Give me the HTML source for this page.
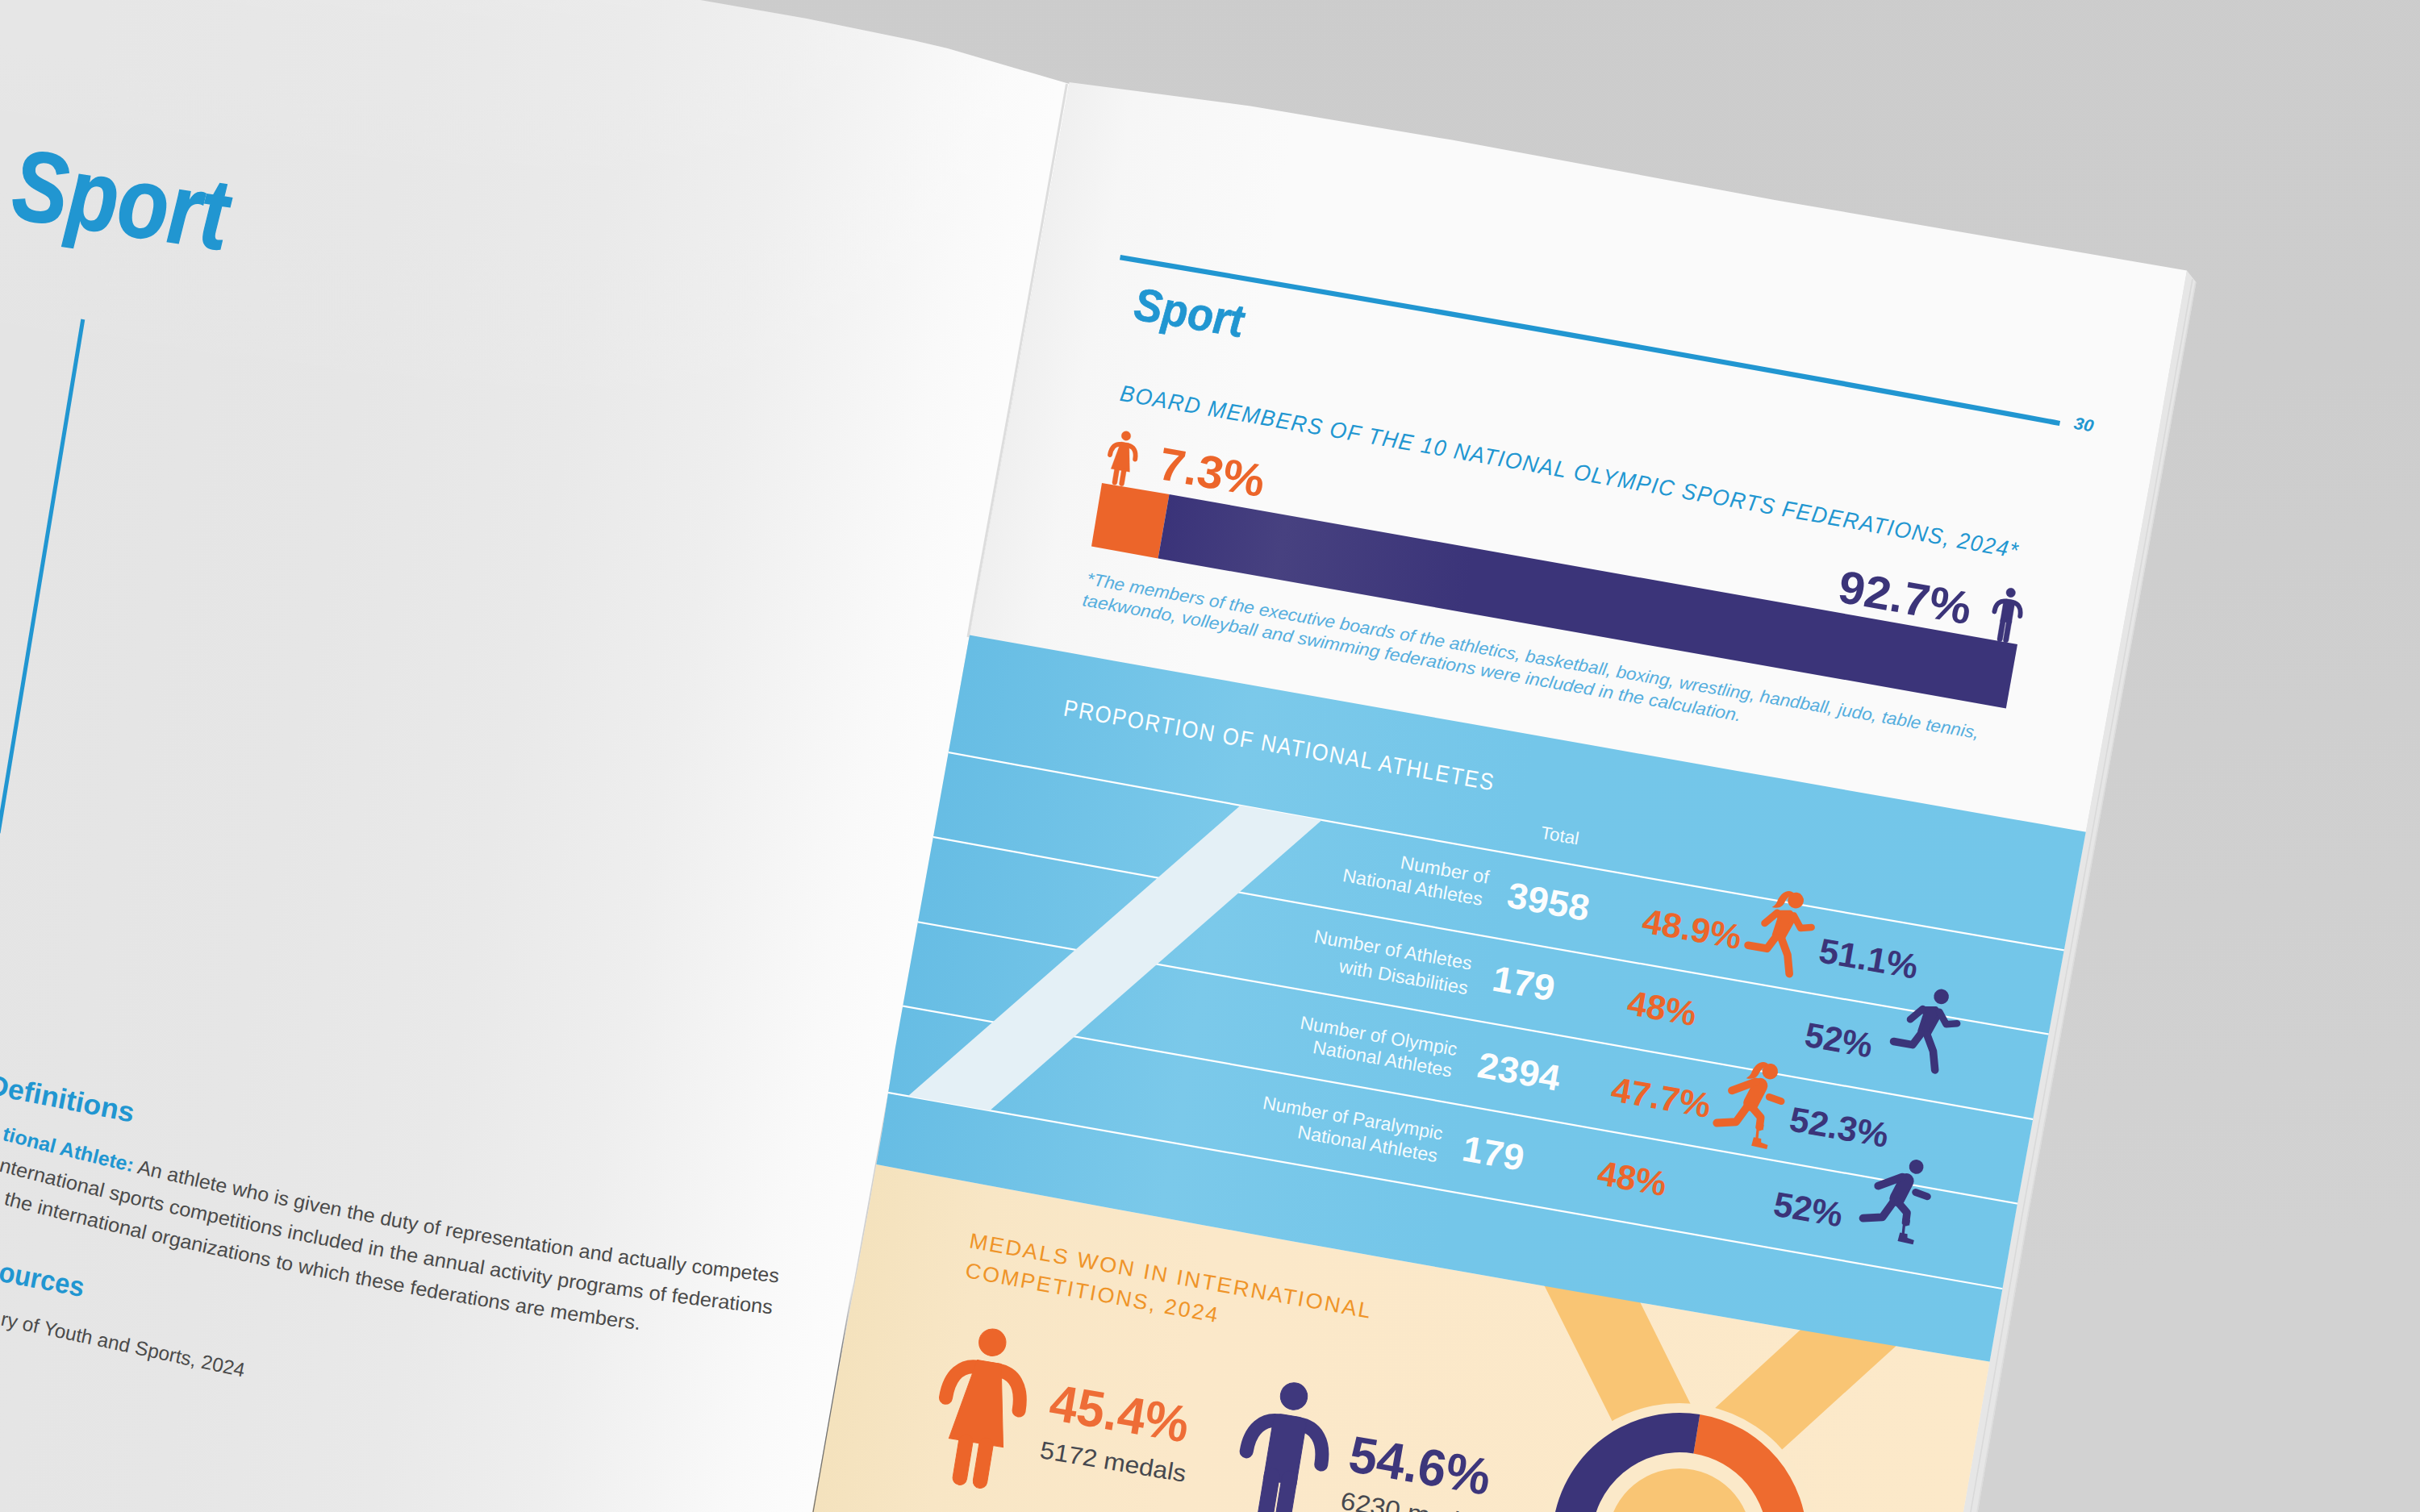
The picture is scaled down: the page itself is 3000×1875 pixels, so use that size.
<!DOCTYPE html>
<html><head><meta charset="utf-8"><title>Sport</title>
<style>html,body{margin:0;padding:0;background:#cdcdcd;}svg{display:block;font-family:"Liberation Sans",sans-serif;}</style>
</head><body>
<svg width="3000" height="1875" viewBox="0 0 3000 1875">
<defs>
<linearGradient id="bg" x1="0" y1="0" x2="0.25" y2="1">
<stop offset="0" stop-color="#cccccc"/><stop offset="0.45" stop-color="#cdcdcd"/><stop offset="1" stop-color="#d2d2d2"/></linearGradient>
<linearGradient id="lp" gradientUnits="userSpaceOnUse" x1="0" y1="700" x2="1300" y2="930">
<stop offset="0" stop-color="#e4e4e4"/><stop offset="0.3" stop-color="#e6e6e6"/><stop offset="0.5" stop-color="#e9e9e9"/><stop offset="0.65" stop-color="#eeeeee"/><stop offset="0.75" stop-color="#f4f4f4"/><stop offset="0.83" stop-color="#f9f9f9"/><stop offset="0.9" stop-color="#fcfcfc"/><stop offset="1" stop-color="#fcfcfc"/></linearGradient>
<linearGradient id="lptop" gradientUnits="userSpaceOnUse" x1="900" y1="0" x2="780" y2="700">
<stop offset="0" stop-color="#ffffff" stop-opacity="0.12"/><stop offset="0.5" stop-color="#ffffff" stop-opacity="0.04"/><stop offset="1" stop-color="#ffffff" stop-opacity="0"/></linearGradient>
<linearGradient id="rp" gradientUnits="userSpaceOnUse" x1="1180" y1="900" x2="2600" y2="1150">
<stop offset="0" stop-color="#efefef"/><stop offset="0.06" stop-color="#f6f6f6"/><stop offset="0.2" stop-color="#fafafa"/><stop offset="1" stop-color="#fafafa"/></linearGradient>
<linearGradient id="bl" gradientUnits="userSpaceOnUse" x1="1150" y1="1100" x2="2550" y2="1350">
<stop offset="0" stop-color="#67bde4"/><stop offset="0.25" stop-color="#7bc9ea"/><stop offset="0.5" stop-color="#74c6e9"/><stop offset="1" stop-color="#73c6e9"/></linearGradient>
<linearGradient id="cr" gradientUnits="userSpaceOnUse" x1="1050" y1="1650" x2="2450" y2="1900">
<stop offset="0" stop-color="#f4e2bd"/><stop offset="0.1" stop-color="#f8e6c5"/><stop offset="0.3" stop-color="#fbe8c9"/><stop offset="1" stop-color="#fce9c9"/></linearGradient>
<linearGradient id="pb" gradientUnits="userSpaceOnUse" x1="1440" y1="650" x2="2500" y2="840">
<stop offset="0" stop-color="#3a3379"/><stop offset="0.14" stop-color="#474180"/><stop offset="0.36" stop-color="#3b3479"/><stop offset="1" stop-color="#3b3479"/></linearGradient>
<clipPath id="rpclip"><polygon points="1325.5,102.0 1550.0,131.4 1800.0,173.6 2200.0,248.0 2711.0,335.6 2664.7,600.0 2585.5,1033.0 2499.6,1500.0 2433.9,1875.0 1006.9,1875.0 1076.7,1500.0 1094.0,1400.0 1109.8,1300.0 1120.0,1243.0 1208.7,750.0 1254.5,500.0"/></clipPath>
<g id="woman">
<circle r="16.7"/>
<path d="M-46,77 C-46,47 -32,33 -12,33 L12,33 C32,33 46,47 46,78" fill="none" stroke-width="17" stroke-linecap="round"/>
<polygon points="-15,24.5 15,24.5 34,126 -34,126"/>
<rect x="-21.5" y="118" width="17.5" height="63" rx="8.7"/><rect x="4" y="118" width="17.5" height="63" rx="8.7"/>
</g>
<g id="man">
<circle r="16.7"/>
<path d="M-47,77 C-47,47 -32,33 -12,33 L12,33 C32,33 47,47 47,78" fill="none" stroke-width="17" stroke-linecap="round"/>
<path d="M-20.5,34 Q-20.5,24.5 -10,24.5 L10,24.5 Q20.5,24.5 20.5,34 L20.5,108 L-20.5,108 Z"/>
<rect x="-20.5" y="92" width="19" height="89" rx="9.5"/><rect x="1.5" y="92" width="19" height="89" rx="9.5"/>
</g>
<g id="runner" stroke-linecap="round" stroke-linejoin="round">
<polygon points="-21,18.5 -4,15.5 2.5,20.5 -7,48 -19,46.5 -16,25" stroke-width="5"/>
<path d="M-20,19 L-33,34.5" stroke-width="8.8" fill="none"/>
<path d="M1,19 L11.9,32.8 L25,29.5" stroke-width="8.6" fill="none"/>
<path d="M-17,50 L-24.7,65 L-48.5,65" stroke-width="9.6" fill="none"/>
<path d="M-9,50 L1.8,68.4 L8,91" stroke-width="9.6" fill="none"/>
</g>
<g id="prunner" stroke-linecap="round" stroke-linejoin="round">
<path d="M-9.2,19.5 L-16.5,43" stroke-width="19" fill="none"/>
<path d="M-15,15.5 L-42.5,31.5" stroke-width="9.8" fill="none"/>
<path d="M4.5,31.3 L20,34" stroke-width="8.8" fill="none"/>
<path d="M-20,47 L-30.6,68.9 L-54,74.3" stroke-width="9.8" fill="none"/>
<path d="M-15,47 L-1.5,58.1 L-0.9,70" stroke-width="9.6" fill="none"/>
<path d="M-5.6,66 L4,66.6 L4.2,73.2 L-5.4,72.6Z" stroke="none"/>
<path d="M-2.5,73 L-1.7,85" stroke-width="3.3" fill="none" stroke-linecap="butt"/>
<polygon points="-5.9,83.8 3.6,84 4.4,88.6 13.1,90.3 12.7,95.6 -6.8,94.7" stroke="none"/>
</g>
<path id="pony" d="M-4,-8.7 C-8,-11.5 -14,-10.5 -18.6,-4.2 C-21,-0.5 -22,3 -22.5,5.9 C-23.5,9 -25,11 -27.6,13.5 C-23,13.7 -20,12.7 -17.7,11.6 C-15,9.5 -14,7.5 -13.2,5.2 C-12.5,2.5 -11.5,0 -9,-3 Z"/>
</defs>
<rect width="3000" height="1875" fill="url(#bg)"/>

<path d="M0,0 L868,0 L1000,23 L1132,50 L1174.8,60 L1231,76.5 L1325.5,104 L1254.5,500 L1208.7,750 L1120,1250 L1006.9,1875 L0,1875 Z" fill="url(#lp)"/>
<path d="M0,0 L868,0 L1000,23 L1132,50 L1174.8,60 L1231,76.5 L1325.5,104 L1254.5,500 L1208.7,750 L1120,1250 L1006.9,1875 L0,1875 Z" fill="url(#lptop)"/>
<text transform="translate(13.0,269.7) rotate(8.72) skewX(4)" font-size="124" fill="#2196d1" font-weight="bold" font-style="italic" textLength="269.1" lengthAdjust="spacingAndGlyphs" stroke="#2196d1" stroke-width="1.5">Sport</text>
<path d="M102.8,396 L-2,1033" stroke="#2196d1" stroke-width="5" fill="none"/>
<text transform="translate(-17.0,1356.2) rotate(11.13)" font-size="35" fill="#2196d1" font-weight="bold" font-style="normal" textLength="184.5" lengthAdjust="spacingAndGlyphs" >Definitions</text>
<path id="tp1" d="M2.0,1413.5 Q483.5,1538.7 965.0,1590.6" fill="none"/>
<text font-size="24.5" fill="#4a4a4a" font-weight="normal" font-style="normal" textLength="980.0" lengthAdjust="spacingAndGlyphs" ><textPath href="#tp1"><tspan font-weight="bold" fill="#2196d1">tional Athlete:</tspan> An athlete who is given the duty of representation and actually competes</textPath></text>
<path id="tp2" d="M-2.0,1452.3 Q477.5,1577.2 957.0,1629.5" fill="none"/>
<text font-size="24.5" fill="#4a4a4a" font-weight="normal" font-style="normal" textLength="976.1" lengthAdjust="spacingAndGlyphs" ><textPath href="#tp2">nternational sports competitions included in the annual activity programs of federations</textPath></text>
<path id="tp3" d="M4.0,1493.6 Q398.5,1596.1 793.0,1649.3" fill="none"/>
<text font-size="24.5" fill="#4a4a4a" font-weight="normal" font-style="normal" textLength="804.7" lengthAdjust="spacingAndGlyphs" ><textPath href="#tp3">the international organizations to which these federations are members.</textPath></text>
<text transform="translate(-3.0,1588.2) rotate(10.84)" font-size="35" fill="#2196d1" font-weight="bold" font-style="normal" textLength="106.9" lengthAdjust="spacingAndGlyphs" >ources</text>
<text transform="translate(0.0,1643.3) rotate(12.06)" font-size="24.5" fill="#4a4a4a" font-weight="normal" font-style="normal" textLength="308.3" lengthAdjust="spacingAndGlyphs" >ry of Youth and Sports, 2024</text>
<polygon points="2711.0,335.6 2722.5,350.0 2678.0,600.0 2600.0,1033.0 2515.7,1500.0 2451.8,1875.0 2433.9,1875.0 2499.6,1500.0 2585.5,1033.0 2664.7,600.0" fill="#e6e6e6"/>
<polyline points="2718.0,346.0 2672.5,600.0 2593.5,1033.0 2508.0,1500.0 2443.0,1875.0" fill="none" stroke="#d9d9d9" stroke-width="1.6"/>
<polyline points="2721.8,350.0 2677.3,600.0 2599.3,1033.0 2515.0,1500.0 2451.0,1875.0" fill="none" stroke="#dcdcdc" stroke-width="1.5"/>
<polygon points="1325.5,102.0 1550.0,131.4 1800.0,173.6 2200.0,248.0 2711.0,335.6 2664.7,600.0 2585.5,1033.0 2499.6,1500.0 2433.9,1875.0 1006.9,1875.0 1076.7,1500.0 1094.0,1400.0 1109.8,1300.0 1120.0,1243.0 1208.7,750.0 1254.5,500.0" fill="url(#rp)"/>
<path d="M1322.5,104 L1252.5,500 L1207,750 L1200,790" stroke="#dddddd" stroke-width="3" fill="none"/>
<g clip-path="url(#rpclip)">
<path d="M1388.5,319.2 Q1971.0,417.0 2553.5,525.0" stroke="#2196d1" stroke-width="6.3" fill="none"/>
<text transform="translate(2570.0,531.5) rotate(9.93)" font-size="21" fill="#2196d1" font-weight="bold" font-style="italic" textLength="24.4" lengthAdjust="spacingAndGlyphs" >30</text>
<text transform="translate(1404.6,395.8) rotate(9.47) skewX(4)" font-size="57" fill="#2196d1" font-weight="bold" font-style="italic" textLength="136.8" lengthAdjust="spacingAndGlyphs" stroke="#2196d1" stroke-width="0.7">Sport</text>
<path id="tp4" d="M1387.3,496.5 Q1944.2,591.5 2501.0,692.6" fill="none"/>
<text font-size="28" fill="#2196d1" font-weight="normal" font-style="italic" textLength="1130.8" lengthAdjust="spacingAndGlyphs" letter-spacing="1.6"><textPath href="#tp4">BOARD MEMBERS OF THE 10 NATIONAL OLYMPIC SPORTS FEDERATIONS, 2024*</textPath></text>
<polygon points="1366,599 1449.5,613 1435.6,692.4 1353,677.5" fill="#ec652a"/>
<polygon points="1449.5,613 2501,799 2486.8,878.4 1435.6,692.4" fill="url(#pb)"/>
<use href="#woman" transform="translate(1396,540.5) rotate(9.5) scale(0.344)" fill="#ec652a" stroke="#ec652a"/>
<use href="#man" transform="translate(2492.7,735) rotate(9.5) scale(0.344)" fill="#3b3479" stroke="#3b3479"/>
<text transform="translate(1434.0,593.6) rotate(9.90)" font-size="57" fill="#ec652a" font-weight="bold" font-style="normal" textLength="132.0" lengthAdjust="spacingAndGlyphs" >7.3%</text>
<text transform="translate(2276.5,745.9) rotate(9.90)" font-size="57" fill="#3b3479" font-weight="bold" font-style="normal" textLength="165.9" lengthAdjust="spacingAndGlyphs" >92.7%</text>
<path id="tp5" d="M1346.0,724.5 Q1899.0,823.3 2452.0,916.2" fill="none"/>
<text font-size="21.5" fill="#55aede" font-weight="normal" font-style="italic" textLength="1122.5" lengthAdjust="spacingAndGlyphs" ><textPath href="#tp5">*The members of the executive boards of the athletics, basketball, boxing, wrestling, handball, judo, table tennis,</textPath></text>
<path id="tp6" d="M1341.0,751.0 Q1749.0,822.9 2157.0,894.6" fill="none"/>
<text font-size="21.5" fill="#55aede" font-weight="normal" font-style="italic" textLength="828.5" lengthAdjust="spacingAndGlyphs" ><textPath href="#tp6">taekwondo, volleyball and swimming federations were included in the calculation.</textPath></text>
<polygon points="1050.0,1437.0 1105.2,1447.5 1160.3,1457.9 1215.5,1468.2 1270.7,1478.5 1325.9,1488.8 1381.0,1499.0 1436.2,1509.1 1491.4,1519.2 1546.6,1529.2 1601.7,1539.2 1656.9,1549.1 1712.1,1559.0 1767.2,1568.8 1822.4,1578.6 1877.6,1588.3 1932.8,1597.9 1987.9,1607.5 2043.1,1617.1 2098.3,1626.6 2153.4,1636.0 2208.6,1645.4 2263.8,1654.8 2319.0,1664.1 2374.1,1673.3 2429.3,1682.5 2484.5,1691.6 2539.7,1700.7 2594.8,1709.7 2650.0,1718.7 2650.0,1900.0 900.0,1900.0" fill="url(#cr)"/>
<polygon points="1896.9,1560 2016.2,1580.5 2033,1614.5 2110,1770 2010,1785 1917.4,1600" fill="#f9c574"/>
<polygon points="2231.4,1649.6 2275,1609.6 2393,1630.3 2349.2,1670.2 2190,1815 2100,1770" fill="#f9c574"/>
<polygon points="1050.0,760.4 1105.2,770.2 1160.3,780.1 1215.5,789.9 1270.7,799.7 1325.9,809.5 1381.0,819.4 1436.2,829.2 1491.4,839.0 1546.6,848.7 1601.7,858.5 1656.9,868.3 1712.1,878.1 1767.2,887.8 1822.4,897.6 1877.6,907.3 1932.8,917.0 1987.9,926.8 2043.1,936.5 2098.3,946.2 2153.4,955.9 2208.6,965.6 2263.8,975.3 2319.0,984.9 2374.1,994.6 2429.3,1004.3 2484.5,1013.9 2539.7,1023.6 2594.8,1033.2 2650.0,1042.8 2650.0,1718.7 2594.8,1709.7 2539.7,1700.7 2484.5,1691.6 2429.3,1682.5 2374.1,1673.3 2319.0,1664.1 2263.8,1654.8 2208.6,1645.4 2153.4,1636.0 2098.3,1626.6 2043.1,1617.1 1987.9,1607.5 1932.8,1597.9 1877.6,1588.3 1822.4,1578.6 1767.2,1568.8 1712.1,1559.0 1656.9,1549.1 1601.7,1539.2 1546.6,1529.2 1491.4,1519.2 1436.2,1509.1 1381.0,1499.0 1325.9,1488.8 1270.7,1478.5 1215.5,1468.2 1160.3,1457.9 1105.2,1447.5 1050.0,1437.0" fill="url(#bl)"/>
<path d="M1050.0,909.8 Q1850.0,1057.4 2650.0,1194.0" stroke="#ffffff" stroke-width="2.2" fill="none"/>
<path d="M1050.0,1018.3 Q1850.0,1165.4 2650.0,1301.4" stroke="#ffffff" stroke-width="2.2" fill="none"/>
<path d="M1050.0,1127.7 Q1850.0,1271.8 2650.0,1410.9" stroke="#ffffff" stroke-width="2.2" fill="none"/>
<path d="M1050.0,1235.3 Q1850.0,1380.6 2650.0,1519.0" stroke="#ffffff" stroke-width="2.2" fill="none"/>
<path d="M1050.0,1346.0 Q1850.0,1487.5 2650.0,1627.6" stroke="#ffffff" stroke-width="2.2" fill="none"/>
<polygon points="1537.8,998.8 1638.6,1016.9 1227.0,1377.3 1125.6,1359.3" fill="#e4f0f6"/>
<text transform="translate(1317.2,887.2) rotate(9.91)" font-size="29" fill="#ffffff" font-weight="normal" font-style="normal" textLength="542.4" lengthAdjust="spacingAndGlyphs" letter-spacing="2">PROPORTION OF NATIONAL ATHLETES</text>
<text transform="translate(1909.0,1039.4) rotate(9.90)" font-size="22" fill="#f4fbfe" font-weight="normal" font-style="normal" textLength="47.7" lengthAdjust="spacingAndGlyphs" >Total</text>
<text transform="translate(1735.1,1076.8) rotate(9.90)" font-size="23" fill="#f4fbfe" font-weight="normal" font-style="normal" textLength="111.2" lengthAdjust="spacingAndGlyphs" >Number of</text>
<text transform="translate(1663.4,1092.8) rotate(9.90)" font-size="23" fill="#f4fbfe" font-weight="normal" font-style="normal" textLength="175.7" lengthAdjust="spacingAndGlyphs" >National Athletes</text>
<text transform="translate(1866.6,1124.6) rotate(9.90)" font-size="45" fill="#fbfdfe" font-weight="bold" font-style="normal" textLength="102.3" lengthAdjust="spacingAndGlyphs" >3958</text>
<text transform="translate(2034.0,1155.9) rotate(9.90)" font-size="43" fill="#ec652a" font-weight="bold" font-style="normal" textLength="123.9" lengthAdjust="spacingAndGlyphs" >48.9%</text>
<text transform="translate(2252.9,1192.7) rotate(9.90)" font-size="43" fill="#3b3479" font-weight="bold" font-style="normal" textLength="123.6" lengthAdjust="spacingAndGlyphs" >51.1%</text>
<text transform="translate(1627.9,1168.6) rotate(9.90)" font-size="23" fill="#f4fbfe" font-weight="normal" font-style="normal" textLength="198.3" lengthAdjust="spacingAndGlyphs" >Number of Athletes</text>
<text transform="translate(1659.1,1205.6) rotate(9.90)" font-size="23" fill="#f4fbfe" font-weight="normal" font-style="normal" textLength="161.6" lengthAdjust="spacingAndGlyphs" >with Disabilities</text>
<text transform="translate(1848.0,1228.0) rotate(9.90)" font-size="45" fill="#fbfdfe" font-weight="bold" font-style="normal" textLength="77.7" lengthAdjust="spacingAndGlyphs" >179</text>
<text transform="translate(2015.5,1257.6) rotate(9.90)" font-size="43" fill="#ec652a" font-weight="bold" font-style="normal" textLength="85.8" lengthAdjust="spacingAndGlyphs" >48%</text>
<text transform="translate(2235.5,1297.1) rotate(9.90)" font-size="43" fill="#3b3479" font-weight="bold" font-style="normal" textLength="84.2" lengthAdjust="spacingAndGlyphs" >52%</text>
<text transform="translate(1610.7,1275.4) rotate(9.90)" font-size="23" fill="#f4fbfe" font-weight="normal" font-style="normal" textLength="197.2" lengthAdjust="spacingAndGlyphs" >Number of Olympic</text>
<text transform="translate(1626.5,1305.7) rotate(9.90)" font-size="23" fill="#f4fbfe" font-weight="normal" font-style="normal" textLength="174.6" lengthAdjust="spacingAndGlyphs" >National Athletes</text>
<text transform="translate(1829.8,1335.2) rotate(9.90)" font-size="45" fill="#fbfdfe" font-weight="bold" font-style="normal" textLength="102.7" lengthAdjust="spacingAndGlyphs" >2394</text>
<text transform="translate(1995.5,1364.8) rotate(9.90)" font-size="43" fill="#ec652a" font-weight="bold" font-style="normal" textLength="124.3" lengthAdjust="spacingAndGlyphs" >47.7%</text>
<text transform="translate(2216.4,1401.8) rotate(9.90)" font-size="43" fill="#3b3479" font-weight="bold" font-style="normal" textLength="123.5" lengthAdjust="spacingAndGlyphs" >52.3%</text>
<text transform="translate(1564.4,1374.8) rotate(9.90)" font-size="23" fill="#f4fbfe" font-weight="normal" font-style="normal" textLength="226.0" lengthAdjust="spacingAndGlyphs" >Number of Paralympic</text>
<text transform="translate(1607.5,1411.1) rotate(9.90)" font-size="23" fill="#f4fbfe" font-weight="normal" font-style="normal" textLength="175.6" lengthAdjust="spacingAndGlyphs" >National Athletes</text>
<text transform="translate(1810.8,1438.8) rotate(9.90)" font-size="45" fill="#fbfdfe" font-weight="bold" font-style="normal" textLength="76.8" lengthAdjust="spacingAndGlyphs" >179</text>
<text transform="translate(1978.5,1468.6) rotate(9.90)" font-size="43" fill="#ec652a" font-weight="bold" font-style="normal" textLength="85.7" lengthAdjust="spacingAndGlyphs" >48%</text>
<text transform="translate(2196.8,1506.9) rotate(9.90)" font-size="43" fill="#3b3479" font-weight="bold" font-style="normal" textLength="86.0" lengthAdjust="spacingAndGlyphs" >52%</text>
<g transform="translate(2226.1,1116.6) rotate(10)" fill="#ec652a" stroke="#ec652a"><circle r="9.9" stroke="none"/><use href="#pony" stroke="none"/><use href="#runner"/></g>
<g transform="translate(2406.6,1235.9) rotate(10)" fill="#3b3479" stroke="#3b3479"><circle r="9.3" stroke="none"/><use href="#runner"/></g>
<g transform="translate(2194.3,1328.7) rotate(10)" fill="#ec652a" stroke="#ec652a"><circle r="9.8" stroke="none"/><use href="#pony" stroke="none"/><use href="#prunner"/></g>
<g transform="translate(2375.6,1446.9) rotate(10)" fill="#3b3479" stroke="#3b3479"><circle r="8.9" stroke="none"/><use href="#prunner"/></g>
<text transform="translate(1200.4,1547.0) rotate(10.00)" font-size="26.5" fill="#ef9428" font-weight="normal" font-style="normal" textLength="506.8" lengthAdjust="spacingAndGlyphs" letter-spacing="2.2">MEDALS WON IN INTERNATIONAL</text>
<text transform="translate(1195.4,1583.8) rotate(10.18)" font-size="26.5" fill="#ef9428" font-weight="normal" font-style="normal" textLength="319.6" lengthAdjust="spacingAndGlyphs" letter-spacing="2.2">COMPETITIONS, 2024</text>
<use href="#woman" transform="translate(1230.3,1664.7) rotate(9.3)" fill="#ec652a" stroke="#ec652a"/>
<use href="#man" transform="translate(1604,1731.5) rotate(9.3)" fill="#3f387d" stroke="#3f387d"/>
<text transform="translate(1298.5,1759.9) rotate(9.58)" font-size="64" fill="#ee6d37" font-weight="bold" font-style="normal" textLength="173.7" lengthAdjust="spacingAndGlyphs" >45.4%</text>
<text transform="translate(1288.1,1807.8) rotate(9.47)" font-size="30" fill="#46484f" font-weight="normal" font-style="normal" textLength="183.0" lengthAdjust="spacingAndGlyphs" >5172 medals</text>
<text transform="translate(1669.6,1823.9) rotate(9.90)" font-size="64" fill="#3d367b" font-weight="bold" font-style="normal" textLength="176.4" lengthAdjust="spacingAndGlyphs" >54.6%</text>
<text transform="translate(1660.6,1871.1) rotate(9.90)" font-size="31" fill="#46484f" font-weight="normal" font-style="normal" textLength="191.2" lengthAdjust="spacingAndGlyphs" >6230 medals</text>
<circle cx="2082" cy="1910" r="170" fill="#fbe9c9"/>
<path d="M2107.3,1754.0 A158,158 0 0 1 2102.2,2066.7 L2096.0,2018.1 A109,109 0 0 0 2099.4,1802.4Z" fill="#ee6b2f"/>
<path d="M2102.2,2066.7 A158,158 0 1 1 2107.3,1754.0 L2099.4,1802.4 A109,109 0 1 0 2096.0,2018.1Z" fill="#3b3479"/>
<circle cx="2082" cy="1910" r="89" fill="#f9c574"/>
</g>
<defs><linearGradient id="sl" gradientUnits="userSpaceOnUse" x1="0" y1="1590" x2="0" y2="1680"><stop offset="0" stop-color="#666" stop-opacity="0"/><stop offset="1" stop-color="#666" stop-opacity="0.9"/></linearGradient></defs>
<path d="M1058,1590 L1054,1611.7 L1008,1875" stroke="url(#sl)" stroke-width="1.3" fill="none"/>
</svg></body></html>
